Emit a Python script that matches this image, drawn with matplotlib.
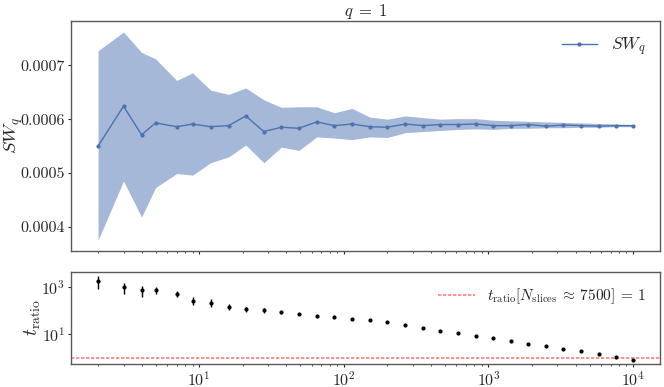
import numpy as np
import matplotlib
matplotlib.use("Agg")
import matplotlib.pyplot as plt
from matplotlib.ticker import FuncFormatter, FixedLocator, LogLocator, NullFormatter

# ---------------- data ----------------
n_slices = [2, 3, 4, 5, 7, 9, 12, 16, 21, 28, 37, 49, 65, 86, 114, 151, 200, 267,
            352, 465, 616, 817, 1082, 1426, 1888, 2500, 3293, 4345, 5780, 7621, 10000]

sw_mean = [0.000550, 0.000624, 0.000571, 0.000593, 0.000586, 0.000591, 0.000586,
           0.000588, 0.000606, 0.000577, 0.000585, 0.000583, 0.000595, 0.000588,
           0.000591, 0.000586, 0.000585, 0.000591, 0.000588, 0.000590, 0.000590,
           0.000591, 0.000588, 0.000588, 0.000590, 0.000587, 0.000589, 0.000588,
           0.000587, 0.000588, 0.000588]
sw_upper = [0.000727, 0.000762, 0.000724, 0.000712, 0.000672, 0.000686, 0.000654,
            0.000646, 0.000658, 0.000636, 0.000622, 0.000623, 0.000623, 0.000612,
            0.000620, 0.000604, 0.000600, 0.000606, 0.000603, 0.000600, 0.000601,
            0.000601, 0.000598, 0.000597, 0.000596, 0.000595, 0.000594, 0.000593,
            0.000592, 0.000591, 0.000590]
sw_lower = [0.000375, 0.000485, 0.000418, 0.000473, 0.000499, 0.000496, 0.000519,
            0.000530, 0.000552, 0.000519, 0.000548, 0.000542, 0.000567, 0.000565,
            0.000562, 0.000567, 0.000566, 0.000575, 0.000577, 0.000579, 0.000581,
            0.000582, 0.000581, 0.000583, 0.000583, 0.000584, 0.000584, 0.000585,
            0.000585, 0.000586, 0.000586]

t_ratio = [1900, 1060, 770, 745, 520, 261, 209, 150, 119, 105, 86, 71, 62, 53, 46,
           39, 32, 25, 18.5, 14.3, 11.0, 8.7, 6.8, 5.3, 4.0, 3.1, 2.44, 1.89, 1.41,
           1.05, 0.80]
t_ratio_lo = [820, 500, 375, 500, 370, 180, 140, 110, 92, 83, 72, 64, 57, 50, 44,
              37.5, 31, 24.3, 18.0, 14.0, 10.8, 8.55, 6.7, 5.22, 3.95, 3.06, 2.41,
              1.87, 1.40, 1.04, 0.795]
t_ratio_hi = [3000, 1570, 1170, 1000, 700, 380, 310, 200, 150, 130, 100, 78, 67, 56,
              48, 40.5, 33, 25.7, 19.0, 14.6, 11.2, 8.85, 6.9, 5.38, 4.05, 3.14,
              2.47, 1.91, 1.42, 1.06, 0.805]

ratio_threshold = 1
title_text = r"$q\;=\;1$"
top_ylabel = r"$SW_q$"
bottom_ylabel = r"$t_{\rm ratio}$"
line_label = r"$SW_q$"
thresh_label = r"$t_{\rm ratio}[N_{\rm slices}\:\approx\:7500]\:=\:1$"
top_yticks = [0.0004, 0.0005, 0.0006, 0.0007]
bottom_yticks = [10, 1000]

# ---------------- style ----------------
plt.rcParams.update({
    "font.family": "serif",
    "font.serif": ["cmr10", "DejaVu Serif"],
    "mathtext.fontset": "cm",
    "axes.formatter.use_mathtext": True,
    "font.size": 11.5,
    "text.color": "#262626",
    "axes.labelcolor": "#262626",
    "xtick.color": "#262626",
    "ytick.color": "#262626",
    "axes.edgecolor": "#5a5a5a",
    "axes.linewidth": 1.0,
    "xtick.direction": "out",
    "ytick.direction": "out",
    "xtick.major.size": 2.5,
    "ytick.major.size": 2.5,
    "xtick.minor.size": 1.6,
    "xtick.major.pad": 2,
    "ytick.major.pad": 1.5,
    "xtick.major.width": 0.8,
    "ytick.major.width": 0.8,
    "xtick.minor.width": 0.6,
})

blue = "#4c72b0"

fig = plt.figure(figsize=(6.64, 3.87), dpi=100)
W, H = 664.0, 387.0
ax1 = fig.add_axes([70.5 / W, 1 - 251 / H, 589.5 / W, (251 - 20.7) / H])
ax2 = fig.add_axes([70.5 / W, 1 - 363.7 / H, 589.5 / W, (363.7 - 272.3) / H], sharex=ax1)

# top panel
ax1.fill_between(n_slices, sw_lower, sw_upper, color=blue, alpha=0.5, linewidth=0)
ax1.plot(n_slices, sw_mean, color=blue, marker=".", markersize=4, linewidth=1,
         label=line_label)
ax1.set_xscale("log")
ax1.set_ylim(0.000355, 0.000783)
ax1.yaxis.set_major_locator(FixedLocator(top_yticks))
ax1.yaxis.set_major_formatter(FuncFormatter(lambda v, p: f"{v:.4f}"))
ax1.tick_params(axis="y", labelsize=11.5)
ax1.set_ylabel(top_ylabel, fontsize=13.5)
ax1.yaxis.set_label_coords(-0.077, 0.5)
ax1.set_title(title_text, fontsize=12, pad=3)
ax1.tick_params(axis="x", which="both", labelbottom=False)
ax1.legend(loc="upper right", frameon=False, fontsize=12.5, handlelength=2.0,
           handletextpad=0.8, borderaxespad=0.45)

# bottom panel
t_arr = np.array(t_ratio)
yerr = [t_arr - np.array(t_ratio_lo), np.array(t_ratio_hi) - t_arr]
ax2.errorbar(n_slices, t_ratio, yerr=yerr, fmt=".", color="black", markersize=4,
             elinewidth=1, capsize=0)
ax2.axhline(ratio_threshold, color="red", alpha=0.5, linestyle=(0, (2, 1)),
            linewidth=1.2, label=thresh_label)
ax2.set_yscale("log")
ax2.set_xscale("log")
ax2.set_ylim(0.56, 4350)
ax2.set_xlim(1.29, 15350)
ax2.yaxis.set_major_locator(FixedLocator(bottom_yticks))
ax2.yaxis.set_minor_formatter(NullFormatter())
ax2.tick_params(axis="y", which="minor", length=0)
ax2.set_ylabel(bottom_ylabel, fontsize=14)
ax2.yaxis.set_label_coords(-0.046, 0.5)
ax2.legend(loc="upper right", frameon=False, fontsize=11, handlelength=2.4,
           handletextpad=0.8, borderaxespad=0.5)

for ax in (ax1, ax2):
    ax.xaxis.set_major_locator(LogLocator(base=10, numticks=10))
    ax.xaxis.set_minor_locator(LogLocator(base=10, subs=np.arange(2, 10), numticks=10))
    ax.xaxis.set_minor_formatter(NullFormatter())

fig.savefig("out.png", dpi=100)
